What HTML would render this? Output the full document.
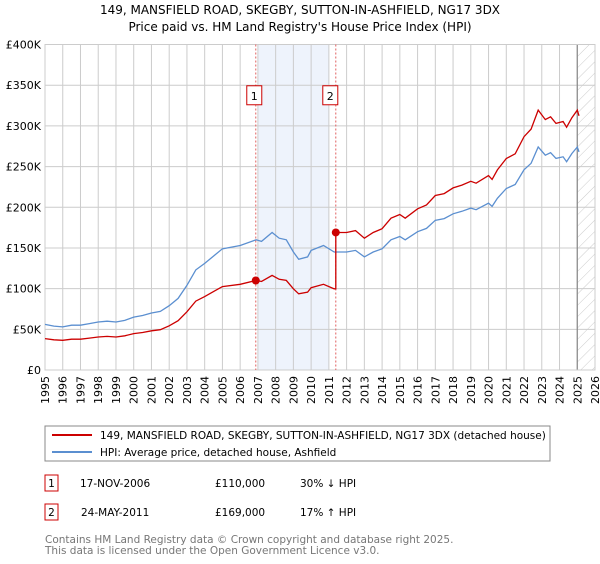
<!DOCTYPE html>
<html><head><meta charset="utf-8"><style>
body{margin:0;background:#fff;font-family:"DejaVu Sans","Liberation Sans",sans-serif;}
svg text{font-family:"DejaVu Sans","Liberation Sans",sans-serif;}
</style></head><body>
<svg id="chart" width="600" height="560" viewBox="0 0 600 560" xmlns="http://www.w3.org/2000/svg">
<defs><pattern id="hatch" width="8" height="8" patternUnits="userSpaceOnUse" patternTransform="rotate(45)"><line x1="0" y1="0" x2="0" y2="8" stroke="#ccc" stroke-width="1"/></pattern></defs>
<text x="300" y="14" text-anchor="middle" font-size="12">149, MANSFIELD ROAD, SKEGBY, SUTTON-IN-ASHFIELD, NG17 3DX</text>
<text x="300" y="31" text-anchor="middle" font-size="12">Price paid vs. HM Land Registry's House Price Index (HPI)</text>
<g id="plot"></g>
<rect x="45" y="426" width="505" height="35" fill="#fff" stroke="#888"/>
<line x1="52" y1="435" x2="92" y2="435" stroke="#cc0000" stroke-width="2"/>
<text x="100" y="439" font-size="10.5">149, MANSFIELD ROAD, SKEGBY, SUTTON-IN-ASHFIELD, NG17 3DX (detached house)</text>
<line x1="52" y1="452" x2="92" y2="452" stroke="#5b8fd0" stroke-width="2"/>
<text x="100" y="456" font-size="10.5">HPI: Average price, detached house, Ashfield</text>
<rect x="45" y="475" width="13" height="16" fill="#fff" stroke="#cc0000"/>
<text x="51.5" y="487" font-size="10.5" text-anchor="middle">1</text>
<text x="80" y="487" font-size="10.5">17-NOV-2006</text>
<text x="215" y="487" font-size="10.5">£110,000</text>
<text x="300" y="487" font-size="10.5">30% ↓ HPI</text>
<rect x="45" y="504" width="13" height="16" fill="#fff" stroke="#cc0000"/>
<text x="51.5" y="516" font-size="10.5" text-anchor="middle">2</text>
<text x="81" y="516" font-size="10.5">24-MAY-2011</text>
<text x="215" y="516" font-size="10.5">£169,000</text>
<text x="300" y="516" font-size="10.5">17% ↑ HPI</text>
<text x="45" y="543" font-size="10.5" fill="#777">Contains HM Land Registry data © Crown copyright and database right 2025.</text>
<text x="45" y="554" font-size="10.5" fill="#777">This data is licensed under the Open Government Licence v3.0.</text>
</svg>
<script>
const hpiYears=[1995,1995.5,1996,1996.5,1997,1997.5,1998,1998.5,1999,1999.5,2000,2000.5,2001,2001.5,2002,2002.5,2003,2003.5,2004,2004.5,2005,2006,2006.9,2007.2,2007.8,2008.2,2008.6,2009,2009.3,2009.8,2010,2010.7,2011.3,2012,2012.5,2013,2013.5,2014,2014.5,2015,2015.3,2016,2016.5,2017,2017.5,2018,2018.5,2019,2019.3,2020,2020.2,2020.5,2021,2021.5,2022,2022.4,2022.8,2023.2,2023.5,2023.8,2024.2,2024.4,2024.7,2025,2025.1];
const hpiValues=[56,54,53,55,55,57,59,60,59,61,65,67,70,72,79,88,104,123,131,140,149,153,160,158,169,162,160,145,136,139,147,153,145,145,147,139,145,149,160,164,160,170,174,184,186,192,195,199,197,205,201,211,223,228,246,254,274,264,267,260,262,256,266,274,268];
const saleYears=[2006.88,2011.39];
const salePrices=[110,169];
const yTicks=[0,50,100,150,200,250,300,350,400];
const yTickLabels=["£0","£50K","£100K","£150K","£200K","£250K","£300K","£350K","£400K"];
const xTicks=[1995,1996,1997,1998,1999,2000,2001,2002,2003,2004,2005,2006,2007,2008,2009,2010,2011,2012,2013,2014,2015,2016,2017,2018,2019,2020,2021,2022,2023,2024,2025,2026];
const X0=45,X1=595,Y0=370,Y1=44.5;
const xs=y=>X0+(y-1995)/(2026-1995)*(X1-X0);
const ys=v=>Y0-v/400*(Y0-Y1);
const NS="http://www.w3.org/2000/svg";
const g=document.getElementById('plot');
function mk(t,a){const e=document.createElementNS(NS,t);for(const k in a)e.setAttribute(k,a[k]);g.appendChild(e);return e;}
function hpiAt(t){for(let i=1;i<hpiYears.length;i++){if(t<=hpiYears[i]){const f=(t-hpiYears[i-1])/(hpiYears[i]-hpiYears[i-1]);return hpiValues[i-1]+f*(hpiValues[i]-hpiValues[i-1]);}}return hpiValues[hpiValues.length-1];}
let e;
e=mk('rect',{x:xs(2007),y:Y1,width:xs(2011)-xs(2007),height:Y0-Y1,fill:'#eef3fc'});


e=mk('rect',{x:xs(2025),y:Y1,width:X1-xs(2025),height:Y0-Y1,fill:'url(#hatch)'});


xTicks.forEach(t=>{
 e=mk('line',{x1:xs(t),x2:xs(t),y1:Y1,y2:Y0,stroke:'#ccc','stroke-width':1});
 
 
 e=mk('text',{x:0,y:0,'font-size':11,'text-anchor':'end',transform:`translate(${xs(t)+4},${Y0+6}) rotate(-90)`});
 e.textContent=t;
 
 
});
yTicks.forEach((t,i)=>{
 e=mk('line',{x1:X0,x2:X1,y1:ys(t),y2:ys(t),stroke:'#ccc','stroke-width':1});
 
 
 e=mk('text',{x:X0-4,y:ys(t)+4,'font-size':11,'text-anchor':'end'});
 e.textContent=yTickLabels[i];
 
 
});
e=mk('line',{x1:xs(2025),x2:xs(2025),y1:Y1,y2:Y0,stroke:'#888','stroke-width':1.2});


e=mk('rect',{x:X0,y:Y1,width:X1-X0,height:Y0-Y1,fill:'none',stroke:'#ccc'});


saleYears.forEach((s,i)=>{
 e=mk('line',{x1:xs(s),x2:xs(s),y1:Y1,y2:Y0,stroke:'#e06060','stroke-width':1,'stroke-dasharray':'2,2'});
 
 
 e=mk('rect',{x:xs(s)-9-(i?4:0),y:ys(337)-10,width:15,height:19,fill:'#fff',stroke:'#cc0000'});
 
 
 e=mk('text',{x:xs(s)-1.5-(i?4:0),y:ys(337)+4,'font-size':11,'text-anchor':'middle'});
 e.textContent=String(i+1);
});
let hp='';
hpiYears.forEach((t,i)=>{hp+=(i?'L':'M')+xs(t).toFixed(1)+','+ys(hpiValues[i]).toFixed(1);});
e=mk('path',{d:hp,fill:'none',stroke:'#5b8fd0','stroke-width':1.3});


const r1=salePrices[0]/hpiAt(saleYears[0]),r2=salePrices[1]/hpiAt(saleYears[1]);
let pts=[];
hpiYears.forEach((t,i)=>{if(t<saleYears[1])pts.push([t,hpiValues[i]*r1]);});
pts.push([saleYears[1],hpiAt(saleYears[1])*r1]);
pts.push([saleYears[1],salePrices[1]]);
hpiYears.forEach((t,i)=>{if(t>saleYears[1])pts.push([t,hpiValues[i]*r2]);});
let rp='';pts.forEach((p,i)=>{rp+=(i?'L':'M')+xs(p[0]).toFixed(1)+','+ys(p[1]).toFixed(1);});
e=mk('path',{d:rp,fill:'none',stroke:'#cc0000','stroke-width':1.3});


saleYears.forEach((s,i)=>{
 e=mk('circle',{cx:xs(s),cy:ys(salePrices[i]),r:4,fill:'#cc0000'});
 
 
});
</script>
</body></html>
